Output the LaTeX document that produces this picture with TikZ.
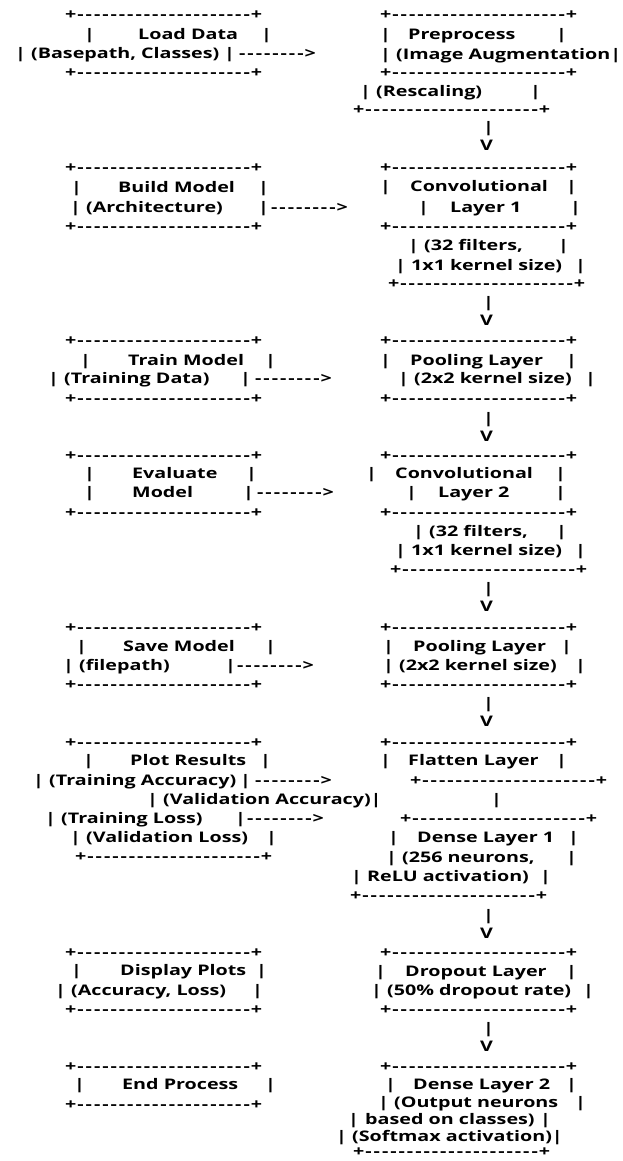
\documentclass[tikz,border=0pt]{standalone}
\usepackage{fontspec}
\setmainfont{Open Sans}[FakeStretch=1.35]
\newcommand\asciifont{\bfseries\fontsize{14.6}{17}\selectfont}
\newcommand\hy{\makebox[8.3pt]{-}}
\newcommand\brd{+\hy\hy\hy\hy\hy\hy\hy\hy\hy\hy\hy\hy\hy\hy\hy\hy\hy\hy\hy\hy\hy+}
\newcommand\arr{\hy\hy\hy\hy\hy\hy\hy\hy>}
\tikzset{asc/.style={anchor=base west, inner sep=0pt, yshift=-5pt, font=\asciifont, text=black}}

\begin{document}
\begin{tikzpicture}[x=1pt, y=-1pt]
\useasboundingbox (0,0) rectangle (623,1161);

% Load Data
\node[asc] (load-top) at (65,15) {\brd};
\node[asc] (load-l) at (84,35) {|};
\node[asc] (load) at (138,35) {Load Data};
\node[asc] (load-r) at (261,35) {|};
\node[asc] (load-sub) at (15,54) {| (Basepath, Classes)};
\node[asc] (load-sub-r) at (224,54) {|};
\node[asc] (load-arr) at (238,54) {\arr};
\node[asc] (load-bot) at (65,73) {\brd};

% Build Model
\node[asc] (build-top) at (65,168) {\brd};
\node[asc] (build-l) at (71,188) {|};
\node[asc] (build) at (118,188) {Build Model};
\node[asc] (build-r) at (258,188) {|};
\node[asc] (build-sub) at (70,207) {| (Architecture)};
\node[asc] (build-sub-r) at (258,207) {|};
\node[asc] (build-arr) at (270,207) {\arr};
\node[asc] (build-bot) at (65,226) {\brd};

% Train Model
\node[asc] (train-top) at (65,340) {\brd};
\node[asc] (train-l) at (80,360) {|};
\node[asc] (train) at (128,360) {Train Model};
\node[asc] (train-r) at (265,360) {|};
\node[asc] (train-sub) at (48,378) {| (Training Data)};
\node[asc] (train-sub-r) at (240,378) {|};
\node[asc] (train-arr) at (254,378) {\arr};
\node[asc] (train-bot) at (65,398) {\brd};

% Evaluate Model
\node[asc] (eval-top) at (65,455) {\brd};
\node[asc] (eval-l) at (84,473) {|};
\node[asc] (eval) at (132,473) {Evaluate};
\node[asc] (eval-r) at (246,473) {|};
\node[asc] (eval-l2) at (84,492) {|};
\node[asc] (eval-2) at (132,492) {Model};
\node[asc] (eval-r2) at (243,492) {|};
\node[asc] (eval-arr) at (256,492) {\arr};
\node[asc] (eval-bot) at (65,512) {\brd};

% Save Model
\node[asc] (save-top) at (65,627) {\brd};
\node[asc] (save-l) at (76,646) {|};
\node[asc] (save) at (123,646) {Save Model};
\node[asc] (save-r) at (265,646) {|};
\node[asc] (save-sub) at (63,665) {| (filepath)};
\node[asc] (save-sub-r) at (225,665) {|};
\node[asc] (save-arr) at (236,665) {\arr};
\node[asc] (save-bot) at (65,684) {\brd};

% Plot Results
\node[asc] (plot-top) at (65,742) {\brd};
\node[asc] (plot-l) at (83,760) {|};
\node[asc] (plot) at (130,760) {Plot Results};
\node[asc] (plot-r) at (260,760) {|};
\node[asc] (plot-ta) at (33,780) {| (Training Accuracy)};
\node[asc] (plot-ta-r) at (240,780) {|};
\node[asc] (plot-ta-arr) at (254,780) {\arr};
\node[asc] (plot-va) at (147,799) {| (Validation Accuracy)|};
\node[asc] (plot-tl) at (45,818) {| (Training Loss)};
\node[asc] (plot-tl-r) at (235,818) {|};
\node[asc] (plot-tl-arr) at (246,818) {\arr};
\node[asc] (plot-vl) at (70,837) {| (Validation Loss)};
\node[asc] (plot-vl-r) at (266,837) {|};
\node[asc] (plot-bot) at (75,856) {\brd};

% Display Plots
\node[asc] (disp-top) at (65,952) {\brd};
\node[asc] (disp-l) at (71,970) {|};
\node[asc] (disp) at (120,970) {Display Plots};
\node[asc] (disp-r) at (256,970) {|};
\node[asc] (disp-sub) at (55,990) {| (Accuracy, Loss)};
\node[asc] (disp-sub-r) at (252,990) {|};
\node[asc] (disp-bot) at (65,1009) {\brd};

% End Process
\node[asc] (end-top) at (65,1066) {\brd};
\node[asc] (end-l) at (74,1084) {|};
\node[asc] (end) at (122,1084) {End Process};
\node[asc] (end-r) at (265,1084) {|};
\node[asc] (end-bot) at (65,1104) {\brd};

% Preprocess
\node[asc] (pre-top) at (380,15) {\brd};
\node[asc] (pre-l) at (380,35) {|};
\node[asc] (pre) at (408,35) {Preprocess};
\node[asc] (pre-r) at (556,35) {|};
\node[asc] (pre-sub) at (380,55) {| (Image Augmentation|};
\node[asc] (pre-bot) at (380,73) {\brd};
\node[asc] (pre-sub2) at (360,92) {| (Rescaling)};
\node[asc] (pre-sub2-r) at (530,92) {|};
\node[asc] (pre-bot2) at (353,110) {\brd};

% Convolutional Layer 1
\node[asc] (conv1-top) at (380,168) {\brd};
\node[asc] (conv1-l) at (380,187) {|};
\node[asc] (conv1) at (410,187) {Convolutional};
\node[asc] (conv1-r) at (566,187) {|};
\node[asc] (conv1-l2) at (418,207) {|};
\node[asc] (conv1-2) at (450,207) {Layer 1};
\node[asc] (conv1-r2) at (570,207) {|};
\node[asc] (conv1-mid) at (380,226) {\brd};
\node[asc] (conv1-sub) at (408,245) {| (32 filters,};
\node[asc] (conv1-sub-r) at (558,245) {|};
\node[asc] (conv1-sub2) at (395,265) {| 1x1 kernel size)};
\node[asc] (conv1-sub2-r) at (575,265) {|};
\node[asc] (conv1-bot) at (388,283) {\brd};

% Pooling Layer 1
\node[asc] (pool1-top) at (380,340) {\brd};
\node[asc] (pool1-l) at (380,360) {|};
\node[asc] (pool1) at (410,360) {Pooling Layer};
\node[asc] (pool1-r) at (566,360) {|};
\node[asc] (pool1-sub) at (398,378) {| (2x2 kernel size)};
\node[asc] (pool1-sub-r) at (585,378) {|};
\node[asc] (pool1-bot) at (380,398) {\brd};

% Convolutional Layer 2
\node[asc] (conv2-top) at (380,455) {\brd};
\node[asc] (conv2-l) at (366,473) {|};
\node[asc] (conv2) at (395,473) {Convolutional};
\node[asc] (conv2-r) at (555,473) {|};
\node[asc] (conv2-l2) at (406,492) {|};
\node[asc] (conv2-2) at (438,492) {Layer 2};
\node[asc] (conv2-r2) at (555,492) {|};
\node[asc] (conv2-mid) at (380,512) {\brd};
\node[asc] (conv2-sub) at (413,531) {| (32 filters,};
\node[asc] (conv2-sub-r) at (556,531) {|};
\node[asc] (conv2-sub2) at (395,550) {| 1x1 kernel size)};
\node[asc] (conv2-sub2-r) at (575,550) {|};
\node[asc] (conv2-bot) at (390,569) {\brd};

% Pooling Layer 2
\node[asc] (pool2-top) at (380,627) {\brd};
\node[asc] (pool2-l) at (383,646) {|};
\node[asc] (pool2) at (413,646) {Pooling Layer};
\node[asc] (pool2-r) at (561,646) {|};
\node[asc] (pool2-sub) at (383,665) {| (2x2 kernel size)};
\node[asc] (pool2-sub-r) at (575,665) {|};
\node[asc] (pool2-bot) at (380,684) {\brd};

% Flatten Layer
\node[asc] (flat-top) at (380,742) {\brd};
\node[asc] (flat-l) at (380,760) {|};
\node[asc] (flat) at (408,760) {Flatten Layer};
\node[asc] (flat-r) at (556,760) {|};
\node[asc] (flat-bot) at (410,780) {\brd};
\node[asc] (flat-bar) at (491,799) {|};

% Dense Layer 1
\node[asc] (dense1-top) at (400,818) {\brd};
\node[asc] (dense1-l) at (388,837) {|};
\node[asc] (dense1) at (417,837) {Dense Layer 1};
\node[asc] (dense1-r) at (568,837) {|};
\node[asc] (dense1-sub) at (386,857) {| (256 neurons,};
\node[asc] (dense1-sub-r) at (566,857) {|};
\node[asc] (dense1-sub2) at (351,876) {| ReLU activation)};
\node[asc] (dense1-sub2-r) at (540,876) {|};
\node[asc] (dense1-bot) at (350,895) {\brd};

% Dropout Layer
\node[asc] (drop-top) at (380,952) {\brd};
\node[asc] (drop-l) at (375,971) {|};
\node[asc] (drop) at (405,971) {Dropout Layer};
\node[asc] (drop-r) at (566,971) {|};
\node[asc] (drop-sub) at (371,990) {| (50\% dropout rate)};
\node[asc] (drop-sub-r) at (583,990) {|};
\node[asc] (drop-bot) at (380,1009) {\brd};

% Dense Layer 2
\node[asc] (dense2-top) at (380,1066) {\brd};
\node[asc] (dense2-l) at (385,1084) {|};
\node[asc] (dense2) at (413,1084) {Dense Layer 2};
\node[asc] (dense2-r) at (566,1084) {|};
\node[asc] (dense2-sub) at (378,1102) {| (Output neurons};
\node[asc] (dense2-sub-r) at (575,1102) {|};
\node[asc] (dense2-l3) at (348,1119) {|};
\node[asc] (dense2-sub2) at (365,1119) {based on classes)};
\node[asc] (dense2-sub2-r) at (540,1119) {|};
\node[asc] (dense2-sub3) at (336,1136) {| (Softmax activation)|};
\node[asc] (dense2-bot) at (353,1151) {\brd};

% down arrows between layers
\foreach \n/\y in {1/128, 2/302, 3/418, 4/588, 5/703, 6/915, 7/1028}{
  \node[asc] (bar\n) at (483,\y) {|};
  \node[asc] (v\n) at (480,\y+18) {V};
}
\end{tikzpicture}
\end{document}
